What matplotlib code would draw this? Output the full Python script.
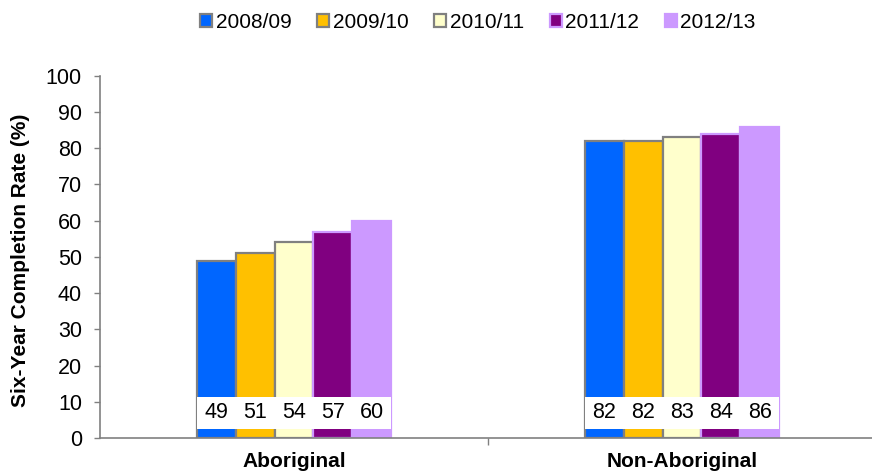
import numpy as np
import matplotlib
matplotlib.use("Agg")
import matplotlib.pyplot as plt
from matplotlib.patches import Rectangle

plt.rcParams['font.family'] = ['Liberation Sans', 'DejaVu Sans']

# ===== data =====
groups = ["Aboriginal", "Non-Aboriginal"]
years = ["2008/09", "2009/10", "2010/11", "2011/12", "2012/13"]
rate_2008 = [49, 82]
rate_2009 = [51, 82]
rate_2010 = [54, 83]
rate_2011 = [57, 84]
rate_2012 = [60, 86]
series = [rate_2008, rate_2009, rate_2010, rate_2011, rate_2012]

fills = ["#0066FF", "#FFC000", "#FFFFCC", "#800080", "#CC99FF"]
edges = ["#808080", "#808080", "#808080", "#CC99FF", "#CC99FF"]

fig = plt.figure(figsize=(8.72, 4.74), dpi=100)
ax = fig.add_axes([0.1147, 0.076, 0.89, 0.764])

x = np.arange(len(groups))
w = 0.1
for i, (vals, fc, ec) in enumerate(zip(series, fills, edges)):
    ax.bar(x + (i - 2) * w, vals, width=w, color=fc, edgecolor=ec,
           linewidth=1.6, label=years[i], zorder=2)

# white boxes with values near the bottom
for j in range(len(groups)):
    ax.add_patch(Rectangle((x[j] - 2.5 * w, 2.5), 5 * w, 8.8,
                           facecolor="white", edgecolor="none", zorder=3))
    for i, vals in enumerate(series):
        ax.text(x[j] + (i - 2) * w, 6.9, str(vals[j]), ha="center", va="center",
                fontsize=15.5, zorder=4)

ax.set_xlim(-0.5, 1.5)
ax.set_ylim(0, 100)
ax.set_yticks(range(0, 101, 10))
ax.tick_params(axis="y", labelsize=15.5, length=4, color="#808080", width=1, pad=9)
ax.set_xticks([0.5, 1.5])
ax.set_xticklabels([])
ax.tick_params(axis="x", length=5, color="#808080", width=1)
ax.set_xticks(x, minor=True)
ax.set_xticklabels(groups, minor=True, fontsize=15, fontweight="bold")
ax.tick_params(axis="x", which="minor", length=0, pad=10)

ax.spines["top"].set_visible(False)
ax.spines["right"].set_visible(False)
for s in ["left", "bottom"]:
    ax.spines[s].set_color("#808080")
    ax.spines[s].set_linewidth(1.2)

ax.set_ylabel("Six-Year Completion Rate (%)", fontsize=15, fontweight="bold")
ax.yaxis.set_label_coords(-0.09, 0.49)

fig.legend(loc="upper center", bbox_to_anchor=(0.548, 1.012), ncol=5, frameon=False,
           fontsize=15, handlelength=0.58, handleheight=0.58, handletextpad=0.15,
           columnspacing=1.25)

fig.savefig("out.png", dpi=100)
